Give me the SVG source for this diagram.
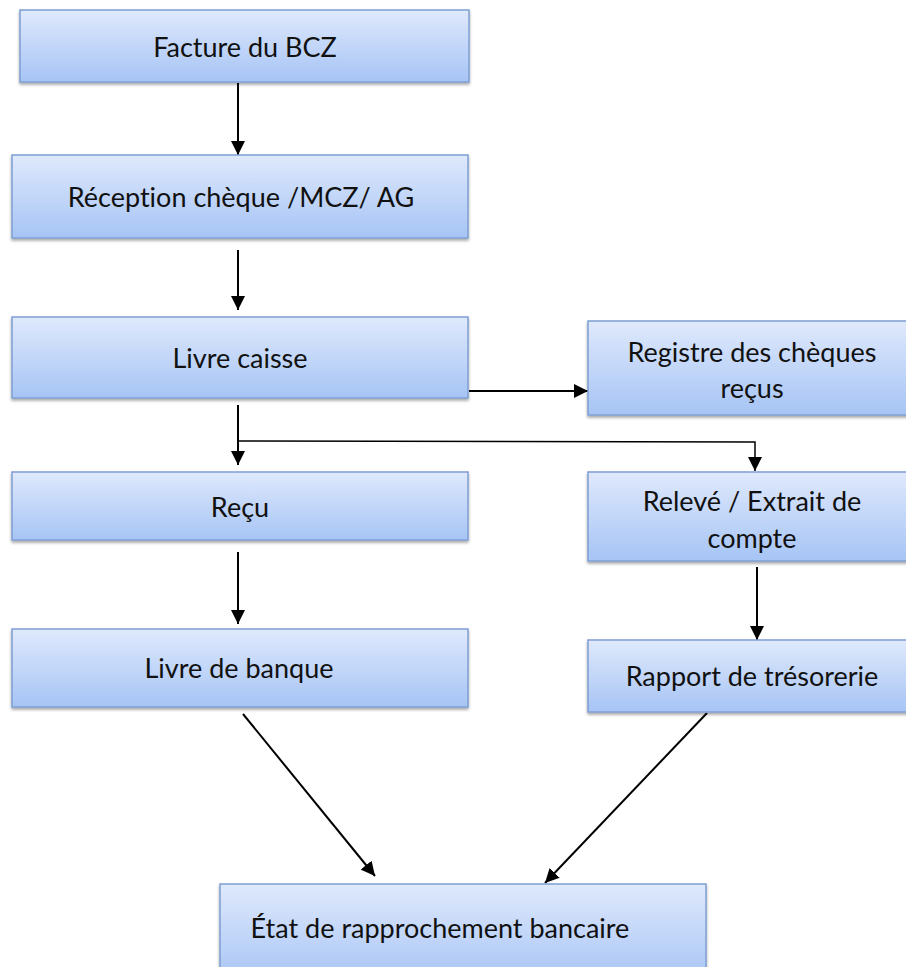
<svg xmlns="http://www.w3.org/2000/svg" width="906" height="967" viewBox="0 0 906 967">
  <defs>
    <linearGradient id="boxFill" x1="0" y1="0" x2="0" y2="1">
      <stop offset="0" stop-color="#dfe9fc"/>
      <stop offset="1" stop-color="#a6c4f5"/>
    </linearGradient>
    <filter id="shadow" x="-5%" y="-10%" width="110%" height="130%">
      <feGaussianBlur in="SourceAlpha" stdDeviation="1.5"/>
      <feOffset dx="0" dy="2" result="b"/>
      <feComponentTransfer><feFuncA type="linear" slope="0.35"/></feComponentTransfer>
      <feMerge><feMergeNode/><feMergeNode in="SourceGraphic"/></feMerge>
    </filter>
    <marker id="arrow" viewBox="0 0 14 14" refX="14" refY="7" markerWidth="14" markerHeight="14" markerUnits="userSpaceOnUse" orient="auto">
      <path d="M0,0 L14,7 L0,14 z" fill="#000"/>
    </marker>
  </defs>
  <style>
    .box { fill: url(#boxFill); stroke: #7f9fd2; stroke-width: 1.5; filter: url(#shadow); }
    .label { font-family: Lato, "Open Sans", "Liberation Sans", sans-serif; font-size: 27px; fill: #111; text-anchor: middle; font-variant-ligatures: none; }
    .edge { fill: none; stroke: #000; stroke-width: 2; }
    .arrow { marker-end: url(#arrow); }
  </style>
  <rect width="906" height="967" fill="#fff"/>

  <g id="connectors">
    <path class="edge arrow" d="M238,83 L238,155"/>
    <path class="edge arrow" d="M238,250 L238,310"/>
    <path class="edge arrow" d="M469,391 L588,391"/>
    <path class="edge arrow" d="M238,405 L238,465"/>
    <path class="edge arrow" d="M238,441 L755,442 L755,471" style="stroke-width:1.5"/>
    <path class="edge arrow" d="M238,552 L238,624"/>
    <path class="edge arrow" d="M757,567 L757,640"/>
    <path class="edge arrow" d="M243,714 L375,876"/>
    <path class="edge arrow" d="M707,713 L545,883"/>
  </g>

  <g id="facture">
    <rect class="box" x="20" y="10" width="449" height="72"/>
    <text class="label" x="245" y="57">Facture du BCZ</text>
  </g>
  <g id="reception">
    <rect class="box" x="12" y="155" width="456" height="83"/>
    <text class="label" x="241" y="207">Réception chèque /MCZ/ AG</text>
  </g>
  <g id="livre-caisse">
    <rect class="box" x="12" y="317" width="456" height="81"/>
    <text class="label" x="240" y="368">Livre caisse</text>
  </g>
  <g id="registre">
    <rect class="box" x="588" y="321" width="340" height="94"/>
    <text class="label" x="752" y="362">Registre des chèques</text>
    <text class="label" x="752" y="398">reçus</text>
  </g>
  <g id="recu">
    <rect class="box" x="12" y="472" width="456" height="68"/>
    <text class="label" x="240" y="517">Reçu</text>
  </g>
  <g id="releve">
    <rect class="box" x="588" y="472" width="340" height="89"/>
    <text class="label" x="752" y="511">Relevé / Extrait de</text>
    <text class="label" x="752" y="548">compte</text>
  </g>
  <g id="livre-banque">
    <rect class="box" x="12" y="629" width="456" height="78"/>
    <text class="label" x="239" y="678">Livre de banque</text>
  </g>
  <g id="rapport">
    <rect class="box" x="588" y="640" width="340" height="72"/>
    <text class="label" x="752" y="686">Rapport de trésorerie</text>
  </g>
  <g id="etat">
    <rect class="box" x="220" y="884" width="486" height="100"/>
    <text class="label" x="440" y="938">État de rapprochement bancaire</text>
  </g>
</svg>
